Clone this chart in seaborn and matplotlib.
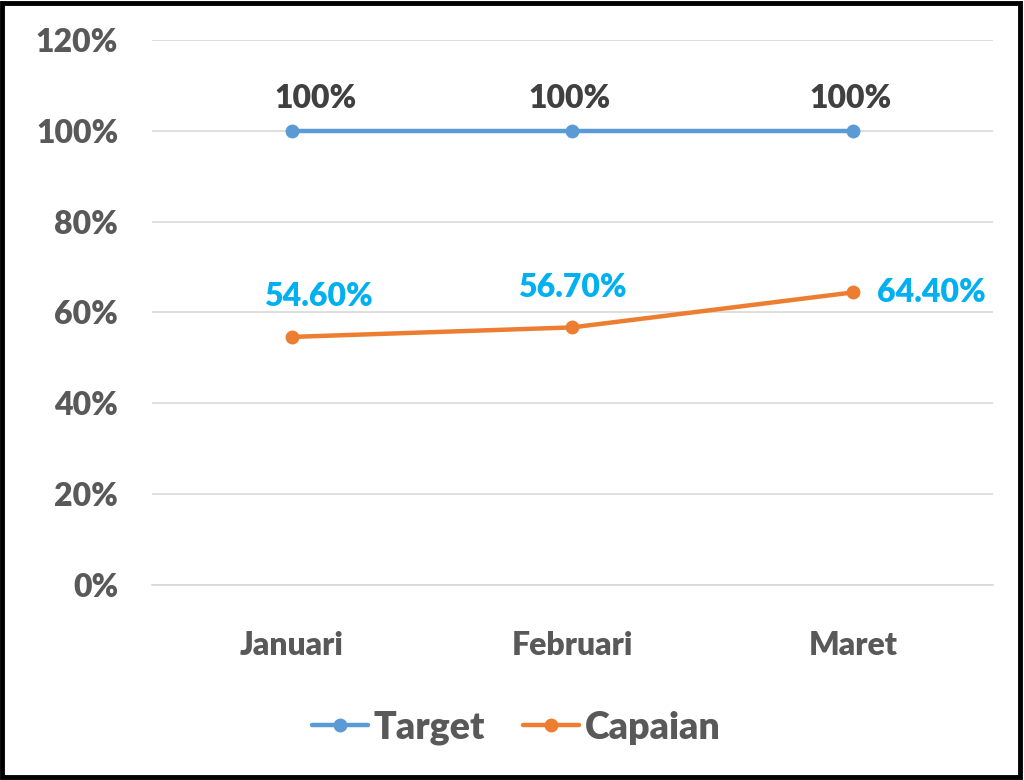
from matplotlib import pyplot as plt
from matplotlib.patches import Rectangle
import seaborn as sns
import pandas as pd

months = ["Januari", "Februari", "Maret"]
target = [100, 100, 100]
capaian = [54.6, 56.7, 64.4]
target_labels = ["100%", "100%", "100%"]
capaian_labels = ["54.60%", "56.70%", "64.40%"]
y_ticks = [0, 20, 40, 60, 80, 100, 120]

sns.set_style("white")
plt.rcParams["font.family"] = ["Lato", "DejaVu Sans"]
W = "heavy"

df = pd.DataFrame({
    "Bulan": months * 2,
    "Nilai": target + capaian,
    "Seri": ["Target"] * 3 + ["Capaian"] * 3,
})

fig = plt.figure(figsize=(10.24, 7.8), dpi=100)
ax = fig.add_axes([0.148, 0.25, 0.822, 0.699])

sns.lineplot(data=df, x="Bulan", y="Nilai", hue="Seri", sort=False,
             palette={"Target": "#5B9BD5", "Capaian": "#ED7D31"},
             marker="o", markersize=10, markeredgewidth=0, linewidth=3.2,
             ax=ax, legend=True)

ax.set_ylim(0, 120)
ax.set_xlim(-0.5, 2.5)
ax.set_yticks(y_ticks)
ax.set_yticklabels([f"{v}%" for v in y_ticks])
ax.yaxis.grid(True, color="#D9D9D9", linewidth=1.2)
ax.set_axisbelow(True)
for s in ax.spines.values():
    s.set_visible(False)
ax.spines["bottom"].set_visible(True)
ax.spines["bottom"].set_color("#D9D9D9")
ax.spines["bottom"].set_linewidth(1.2)
ax.set_xlabel("")
ax.set_ylabel("")
ax.tick_params(axis="both", length=0, labelsize=23, labelcolor="#595959")
ax.tick_params(axis="y", pad=24)
ax.tick_params(axis="x", pad=33)
for lbl in ax.get_xticklabels() + ax.get_yticklabels():
    lbl.set_fontweight(W)

# label offsets (points) as placed in the original
t_dx = [17, -2, -2]
c_dx = [19, 0, 17]
for i, (v, t) in enumerate(zip(target, target_labels)):
    ax.annotate(t, (i, v), xytext=(t_dx[i], 23), textcoords="offset points",
                ha="center", va="center", fontsize=23, fontweight=W,
                color="#404040")
for i, (v, t) in enumerate(zip(capaian, capaian_labels)):
    if i == 2:
        ax.annotate(t, (i, v), xytext=(c_dx[i], 0), textcoords="offset points",
                    ha="left", va="center", fontsize=23, fontweight=W,
                    color="#00B0F0")
    else:
        ax.annotate(t, (i, v), xytext=(c_dx[i], 29), textcoords="offset points",
                    ha="center", va="center", fontsize=23, fontweight=W,
                    color="#00B0F0")

handles, labels = ax.get_legend_handles_labels()
leg = ax.legend(handles, labels, loc="center", bbox_to_anchor=(0.433, -0.262),
                ncol=2, frameon=False, fontsize=27, handlelength=1.5,
                handletextpad=0.15, columnspacing=1.0)
for txt in leg.get_texts():
    txt.set_color("#595959")
    txt.set_fontweight(W)

fig.patches.append(Rectangle((0.002, 0.004), 0.994, 0.992, transform=fig.transFigure,
                             fill=False, edgecolor="black", linewidth=3.5))

plt.savefig("out.png", dpi=100)
plt.close()
